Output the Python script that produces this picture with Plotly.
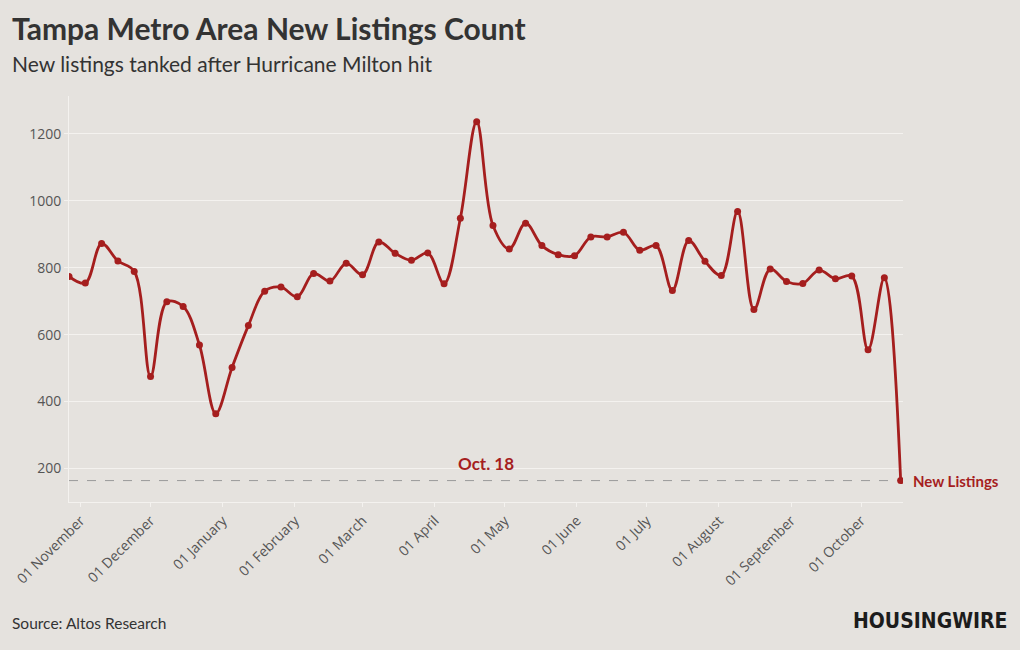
import pandas as pd
import plotly.graph_objects as go

# weekly new listings, Tampa metro (Fridays, 27 Oct 2023 -> 18 Oct 2024)
weeks = pd.date_range("2023-10-27", periods=52, freq="7D")
new_listings = [
    774, 754, 872, 820, 789, 475, 698, 684, 569, 364,
    502, 627, 730, 742, 713, 783, 760, 813, 779, 877,
    843, 822, 844, 752, 948, 1236, 926, 856, 933, 866,
    839, 836, 892, 892, 906, 852, 866, 732, 881, 819,
    777, 968, 675, 796, 759, 753, 793, 767, 775, 555,
    770, 164,
]
y_ticks = [200, 400, 600, 800, 1000, 1200]

RED = "#a51e1e"
BG = "#e5e2de"
GRID = "#f4f2ef"
TICKFONT = dict(family="Open Sans, sans-serif", size=14, color="#555555")

fig = go.Figure()
fig.add_trace(go.Scatter(
    x=weeks, y=new_listings,
    mode="lines+markers",
    line=dict(color=RED, width=2.8, shape="spline", smoothing=1),
    marker=dict(color=RED, size=7),
    hoverinfo="x+y",
    showlegend=False,
))

last_x, last_y = weeks[-1], new_listings[-1]

# dashed reference line at the latest value
fig.add_shape(
    type="line", xref="x", yref="y",
    x0=weeks[0], x1=last_x + pd.Timedelta(days=4),
    y0=last_y, y1=last_y,
    line=dict(color="#999999", width=1, dash="dash"),
    layer="below",
)

fig.add_annotation(
    x=0.5, xref="paper", y=last_y, yref="y",
    text="<b>Oct. 18</b>", showarrow=False,
    yanchor="bottom", yshift=5,
    font=dict(family="Lato, sans-serif", size=17, color=RED),
)
fig.add_annotation(
    x=last_x, y=last_y, xref="x", yref="y",
    text="<b>New Listings</b>", showarrow=False,
    xanchor="left", xshift=10,
    font=dict(family="Lato, sans-serif", size=15, color=RED),
)

# titles / footer (positions relative to the plot area: 834 x 406 px)
fig.add_annotation(
    x=-69 / 834, xref="paper", y=1 + (96 - 28) / 406, yref="paper",
    text="<b>Tampa Metro Area New Listings Count</b>", showarrow=False,
    xanchor="left", yanchor="middle", xshift=10,
    font=dict(family="Lato, sans-serif", size=30, color="#333333"),
)
fig.add_annotation(
    x=-69 / 834, xref="paper", y=1 + (96 - 63) / 406, yref="paper",
    text="New listings tanked after Hurricane Milton hit", showarrow=False,
    xanchor="left", yanchor="middle", xshift=10,
    font=dict(family="Lato, sans-serif", size=21, color="#333333"),
)
fig.add_annotation(
    x=-69 / 834, xref="paper", y=-(623 - 502) / 406, yref="paper",
    text="Source: Altos Research", showarrow=False,
    xanchor="left", yanchor="middle", xshift=10,
    font=dict(family="Lato, sans-serif", size=15.5, color="#333333"),
)
fig.add_annotation(
    x=1 + (1010 - 903) / 834, xref="paper", y=-(621 - 502) / 406, yref="paper",
    text="<b>HOUSINGWIRE</b>", showarrow=False,
    xanchor="right", yanchor="middle",
    font=dict(family="DejaVu Sans Condensed, DejaVu Sans, sans-serif",
              size=21, color="#1c1c1c"),
)

fig.update_layout(
    width=1020, height=650,
    margin=dict(l=69, r=117, t=96, b=148),
    paper_bgcolor=BG, plot_bgcolor=BG,
    xaxis=dict(
        range=[weeks[0], last_x + pd.Timedelta(days=1)],
        tick0="2023-11-01", dtick="M1", tickformat="%d %B",
        tickangle=-45, tickfont=TICKFONT,
        showgrid=False, showline=True, linecolor=GRID, linewidth=1,
        ticks="outside", ticklen=4, tickcolor=GRID,
        zeroline=False,
    ),
    yaxis=dict(
        range=[100, 1313], tickvals=y_ticks, tickfont=TICKFONT,
        showgrid=True, gridcolor=GRID, gridwidth=1,
        showline=True, linecolor=GRID, linewidth=1,
        ticks="outside", ticklen=4, tickcolor=GRID,
        zeroline=False,
    ),
)

fig.write_html(
    "out.html",
    config={"displayModeBar": False},
    post_script="document.body.style.margin='0';document.body.style.background='%s';" % BG,
)
